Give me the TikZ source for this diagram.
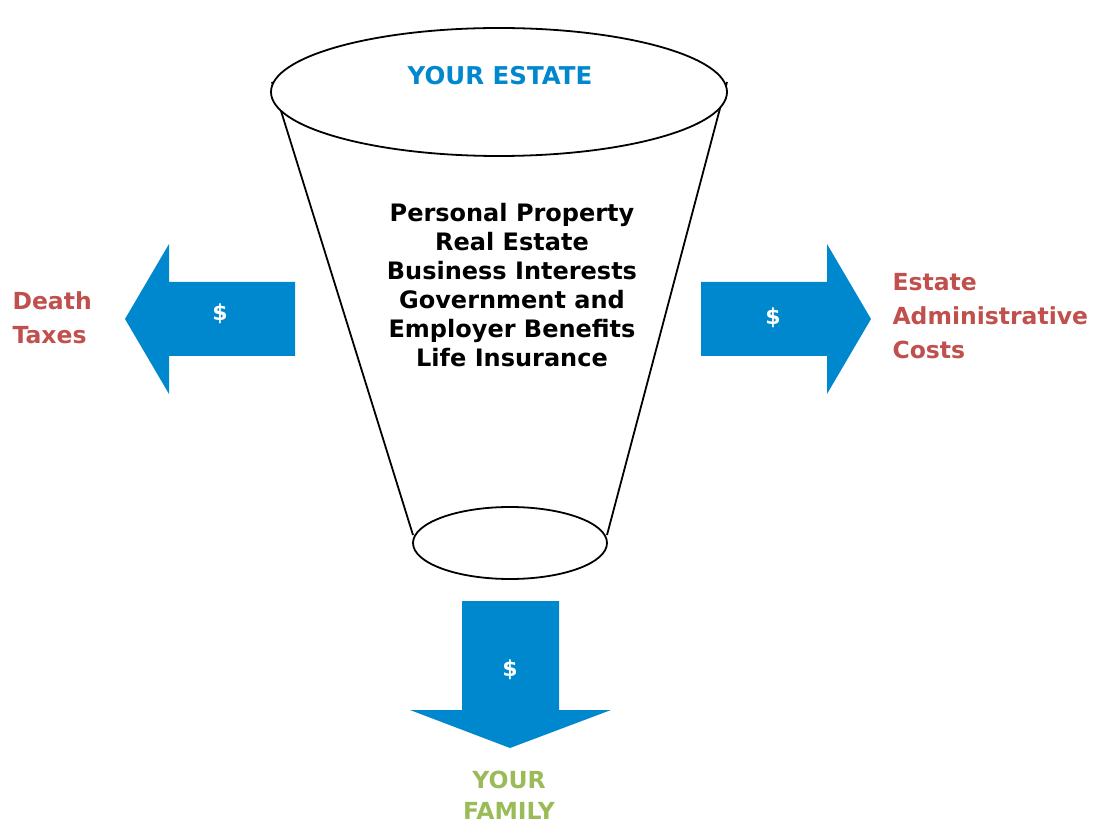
\documentclass[tikz,border=0pt]{standalone}
\usepackage{fontspec}
\setmainfont{DejaVu Sans}
\definecolor{arrowblue}{RGB}{0,136,206}
\definecolor{titleblue}{RGB}{0,136,206}
\definecolor{costred}{RGB}{192,80,77}
\definecolor{famgreen}{RGB}{155,187,89}
\begin{document}
\begin{tikzpicture}[x=1pt,y=-1pt,
  funnel/.style={draw=black,line width=1.8pt,fill=white},
  side/.style={draw=black,line width=1.8pt},
  bigarrow/.style={fill=arrowblue,draw=none},
  dollar/.style={text=white,font=\bfseries\fontsize{22}{26}\selectfont},
  redlbl/.style={text=costred,font=\bfseries\fontsize{23.5}{34}\selectfont,align=left,anchor=west},
  item/.style={text=black,font=\bfseries\fontsize{24}{29}\selectfont,align=center},
]
\useasboundingbox (0,0) rectangle (1093,826);
% funnel sides
\coordinate (tl) at (272,82);
\coordinate (tr) at (727,82);
\coordinate (bl) at (413,535);
\coordinate (br) at (607,535);
\draw[side] (tl) -- (bl);
\draw[side] (tr) -- (br);
\draw[funnel] (499,92) ellipse [x radius=228,y radius=64];
\draw[funnel] (510,543) ellipse [x radius=97,y radius=36];
\node[text=titleblue,font=\bfseries\fontsize{24.5}{28}\selectfont] (estate) at (500,76) {YOUR ESTATE};
\node[item] (items) at (512,285) {Personal Property\\Real Estate\\Business Interests\\Government and\\Employer Benefits\\Life Insurance};
% left arrow
\fill[bigarrow] (125,319) -- (169,244) -- (169,282) -- (295,282) -- (295,356) -- (169,356) -- (169,394) -- cycle;
\node[dollar] (ld) at (220,314) {\$};
\node[redlbl] (death) at (9,318) {Death\\Taxes};
% right arrow
\fill[bigarrow] (871,319) -- (827,244) -- (827,282) -- (701,282) -- (701,356) -- (827,356) -- (827,394) -- cycle;
\node[dollar] (rd) at (773,318) {\$};
\node[redlbl] (costs) at (889,316) {Estate\\Administrative\\Costs};
% down arrow
\fill[bigarrow] (510,748) -- (410,710) -- (462,710) -- (462,601) -- (559,601) -- (559,710) -- (611,710) -- cycle;
\node[dollar] (dd) at (510,670) {\$};
\node[text=famgreen,font=\bfseries\fontsize{23.5}{31}\selectfont,align=center,inner sep=1pt] (family) at (509,795) {YOUR\\FAMILY};
\end{tikzpicture}
\end{document}
